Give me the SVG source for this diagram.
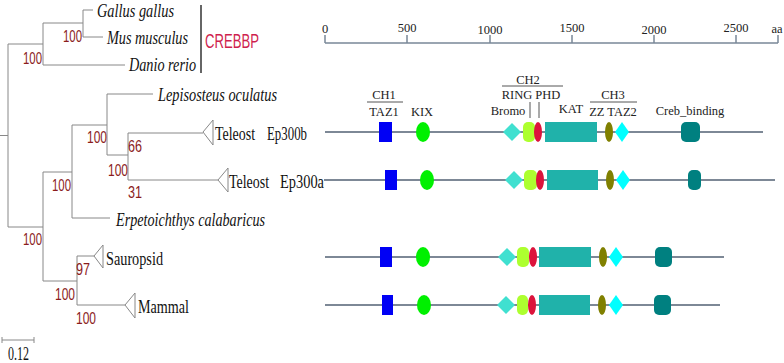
<svg xmlns="http://www.w3.org/2000/svg" width="784" height="363" viewBox="0 0 784 363">
<style>
.br{fill:none;stroke:#888;stroke-width:1}
.sp{font-family:"Liberation Serif",serif;font-style:italic;font-size:18px;fill:#111}
.cl{font-family:"Liberation Serif",serif;font-size:18px;fill:#111}
.bs{font-family:"Liberation Sans",sans-serif;font-size:17px;fill:#8b1c1c}
.ax{font-family:"Liberation Serif",serif;font-size:12.5px;fill:#222;text-anchor:middle}
.dl{font-family:"Liberation Serif",serif;font-size:12.5px;fill:#222;text-anchor:middle}
.ln{stroke:#7d8896;stroke-width:2;fill:none}
.tk{stroke:#555;stroke-width:1;fill:none}
.ch1{fill:#0000f5}
.kix{fill:#00f000}
.bro{fill:#40e0d0}
.ring{fill:#adff2f}
.phd{fill:#dc143c}
.kat{fill:#20b2aa}
.zz{fill:#808000}
.taz2{fill:#00ffff}
.creb{fill:#008080}
</style>
<rect width="784" height="363" fill="#fff"/>
<g id="connectors">
<path class="br" d="M0,135.5H8M8,44V227M8,44H43M43,23V65M43,23H83M83,10V37M83,10H93M83,37H103M43,65H125M8,227H43M43,172V281M43,172H72M72,125V218M72,125H107M107,94V155M107,94H153M107,155H128M128,133V180M128,133H203M128,180H218M72,218H110M43,281H77M77,256V305M77,256H94M77,305H125"/>
<path class="br" d="M203,132L213,120V145ZM218,180L228,168V192ZM94,256L103,245V268ZM125,305L135,293V318Z" fill="#fff"/>
</g>
<g id="leaf-gallus"><text class="sp" x="97" y="17" textLength="77" lengthAdjust="spacingAndGlyphs">Gallus gallus</text></g>
<g id="leaf-mus"><text class="sp" x="107" y="44" textLength="81" lengthAdjust="spacingAndGlyphs">Mus musculus</text></g>
<g id="leaf-danio"><text class="sp" x="129" y="71" textLength="67" lengthAdjust="spacingAndGlyphs">Danio rerio</text></g>
<g id="leaf-lepisosteus"><text class="sp" x="158" y="101" textLength="119" lengthAdjust="spacingAndGlyphs">Lepisosteus oculatus</text></g>
<g id="leaf-erpetoichthys"><text class="sp" x="116" y="226" textLength="149" lengthAdjust="spacingAndGlyphs">Erpetoichthys calabaricus</text></g>
<g id="leaf-teleost-b"><text class="cl" x="215" y="140" textLength="40" lengthAdjust="spacingAndGlyphs">Teleost</text><text class="cl" x="267" y="140" textLength="40" lengthAdjust="spacingAndGlyphs">Ep300b</text></g>
<g id="leaf-teleost-a"><text class="cl" x="229" y="188" textLength="40" lengthAdjust="spacingAndGlyphs">Teleost</text><text class="cl" x="280" y="188" textLength="44" lengthAdjust="spacingAndGlyphs">Ep300a</text></g>
<g id="leaf-sauropsid"><text class="cl" x="106" y="265" textLength="57" lengthAdjust="spacingAndGlyphs">Sauropsid</text></g>
<g id="leaf-mammal"><text class="cl" x="138" y="313" textLength="51" lengthAdjust="spacingAndGlyphs">Mammal</text></g>
<g id="crebbp-clade">
<path d="M201,5V73" stroke="#666" stroke-width="2"/>
<text x="205" y="48" font-family="Liberation Sans,sans-serif" font-size="20" fill="#cf1f4f" textLength="54" lengthAdjust="spacingAndGlyphs">CREBBP</text>
</g>
<g id="bootstrap">
<text class="bs" x="63" y="42" textLength="19" lengthAdjust="spacingAndGlyphs">100</text>
<text class="bs" x="23" y="64" textLength="19" lengthAdjust="spacingAndGlyphs">100</text>
<text class="bs" x="87" y="143" textLength="20" lengthAdjust="spacingAndGlyphs">100</text>
<text class="bs" x="128" y="152" textLength="14" lengthAdjust="spacingAndGlyphs">66</text>
<text class="bs" x="108" y="176" textLength="20" lengthAdjust="spacingAndGlyphs">100</text>
<text class="bs" x="128" y="198" textLength="14" lengthAdjust="spacingAndGlyphs">31</text>
<text class="bs" x="52" y="191" textLength="19" lengthAdjust="spacingAndGlyphs">100</text>
<text class="bs" x="23" y="245" textLength="19" lengthAdjust="spacingAndGlyphs">100</text>
<text class="bs" x="76" y="275" textLength="14" lengthAdjust="spacingAndGlyphs">97</text>
<text class="bs" x="55" y="300" textLength="20" lengthAdjust="spacingAndGlyphs">100</text>
<text class="bs" x="76" y="324" textLength="20" lengthAdjust="spacingAndGlyphs">100</text>
</g>
<g id="tree-scale">
<path class="br" d="M2,340H34M2,337V343M34,337V343"/>
<text class="cl" x="8" y="360" font-size="15" textLength="21" lengthAdjust="spacingAndGlyphs">0.12</text>
</g>
<g id="aa-axis">
<path stroke="#7a8898" stroke-width="1.5" fill="none" d="M325,43H778M325,35V43M407,35V43M490,35V43M572,35V43M654,35V43M736,35V43M778,35V43"/>
<text class="ax" x="325" y="33">0</text>
<text class="ax" x="407" y="32">500</text>
<text class="ax" x="490" y="34">1000</text>
<text class="ax" x="572" y="32">1500</text>
<text class="ax" x="654" y="34">2000</text>
<text class="ax" x="736" y="32">2500</text>
<text class="ax" x="777" y="33" font-size="10">aa</text>
</g>
<g id="domain-legend">
<path class="tk" d="M367,102H403M502,86H563M590,102H637M530,102V118M539,102V118"/>
<text class="dl" x="384" y="99">CH1</text>
<text class="dl" x="384" y="116">TAZ1</text>
<text class="dl" x="422" y="116">KIX</text>
<text class="dl" x="528" y="84">CH2</text>
<text class="dl" x="531" y="99">RING PHD</text>
<text class="dl" x="508" y="115">Bromo</text>
<text class="dl" x="571" y="113">KAT</text>
<text class="dl" x="613" y="99">CH3</text>
<text class="dl" x="613" y="116">ZZ TAZ2</text>
<text class="dl" x="690" y="115">Creb_binding</text>
</g>
<g id="protein-ep300b">
<path class="ln" d="M325,132H763"/>
<rect class="ch1" x="379" y="122" width="13" height="20"/>
<ellipse class="kix" cx="423" cy="132" rx="7" ry="10"/>
<path class="bro" d="M503,132L512,123L521,132L512,141Z"/>
<rect class="ring" x="523" y="122" width="12" height="20" rx="5"/>
<ellipse class="phd" cx="538" cy="132" rx="4" ry="10"/>
<rect class="kat" x="545" y="122" width="52" height="20"/>
<ellipse class="zz" cx="609" cy="132" rx="4" ry="10"/>
<path class="taz2" d="M615,132L622,122L629,132L622,142Z"/>
<rect class="creb" x="681" y="122" width="19" height="20" rx="5"/>
</g>
<g id="protein-ep300a">
<path class="ln" d="M324,180H775"/>
<rect class="ch1" x="385" y="170" width="12" height="20"/>
<ellipse class="kix" cx="427" cy="180" rx="7" ry="10"/>
<path class="bro" d="M505,180L514,171L523,180L514,189Z"/>
<rect class="ring" x="524" y="170" width="13" height="20" rx="5"/>
<ellipse class="phd" cx="540" cy="180" rx="4" ry="10"/>
<rect class="kat" x="547" y="170" width="51" height="20"/>
<ellipse class="zz" cx="610" cy="180" rx="4" ry="10"/>
<path class="taz2" d="M616,180L623,170L630,180L623,190Z"/>
<rect class="creb" x="688" y="170" width="13" height="20" rx="5"/>
</g>
<g id="protein-sauropsid">
<path class="ln" d="M325,257H724"/>
<rect class="ch1" x="380" y="247" width="12" height="20"/>
<ellipse class="kix" cx="423" cy="257" rx="7" ry="10"/>
<path class="bro" d="M498,257L507,248L516,257L507,266Z"/>
<rect class="ring" x="517" y="247" width="12" height="20" rx="5"/>
<ellipse class="phd" cx="533" cy="257" rx="4" ry="10"/>
<rect class="kat" x="539" y="247" width="52" height="20"/>
<ellipse class="zz" cx="603" cy="257" rx="4" ry="10"/>
<path class="taz2" d="M609,257L616,247L623,257L616,267Z"/>
<rect class="creb" x="655" y="247" width="17" height="20" rx="5"/>
</g>
<g id="protein-mammal">
<path class="ln" d="M325,305H720"/>
<rect class="ch1" x="382" y="295" width="11" height="20"/>
<ellipse class="kix" cx="424" cy="305" rx="7" ry="10"/>
<path class="bro" d="M497,305L506,296L515,305L506,314Z"/>
<rect class="ring" x="517" y="295" width="11" height="20" rx="5"/>
<ellipse class="phd" cx="532" cy="305" rx="4" ry="10"/>
<rect class="kat" x="539" y="295" width="51" height="20"/>
<ellipse class="zz" cx="602" cy="305" rx="4" ry="10"/>
<path class="taz2" d="M609,305L616,295L623,305L616,315Z"/>
<rect class="creb" x="654" y="295" width="17" height="20" rx="5"/>
</g>
</svg>
